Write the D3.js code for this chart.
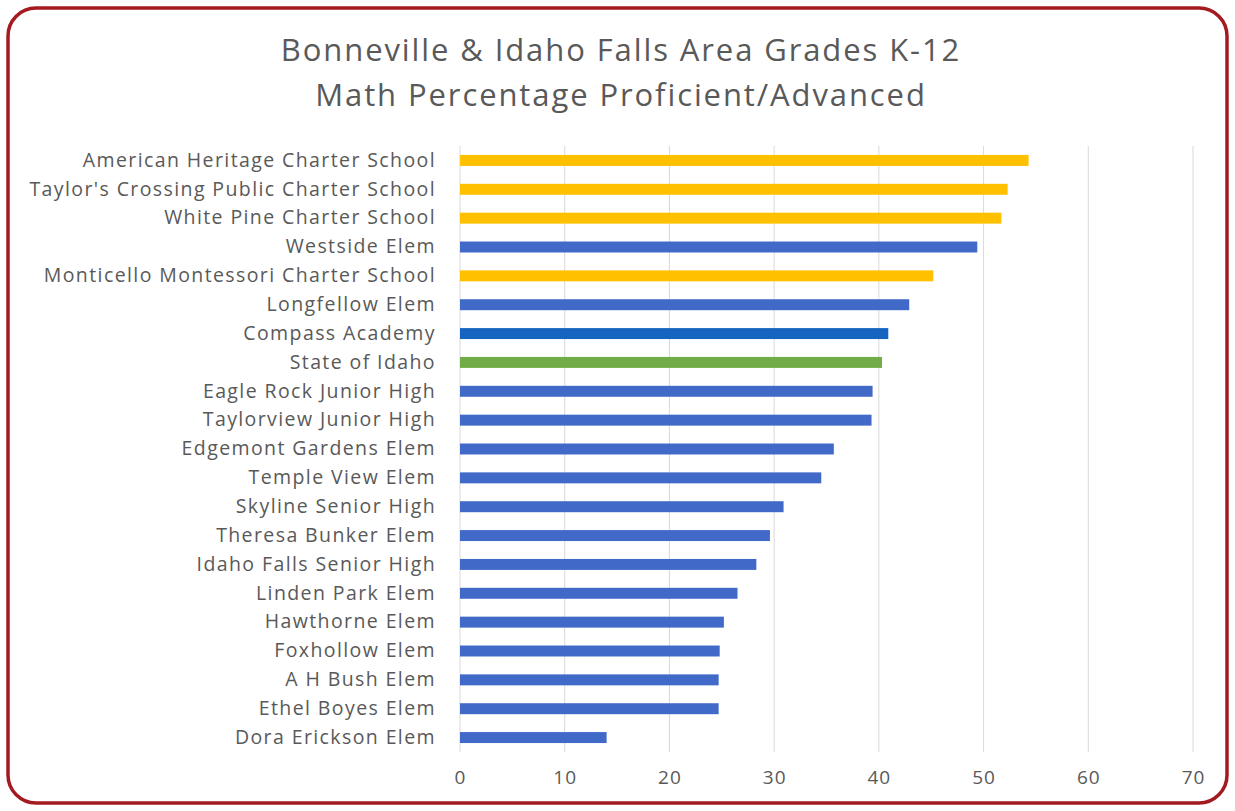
<!DOCTYPE html>
<html>
<head>
<meta charset="utf-8">
<script src="https://cdn.jsdelivr.net/npm/d3@7"></script>
<style>
  html, body { margin: 0; padding: 0; background: #fff; }
  svg { display: block; font-family: "Open Sans", sans-serif; }
</style>
</head>
<body>
<svg id="chart"></svg>
<script>
const schools = [
  "American Heritage Charter School",
  "Taylor's Crossing Public Charter School",
  "White Pine Charter School",
  "Westside Elem",
  "Monticello Montessori Charter School",
  "Longfellow Elem",
  "Compass Academy",
  "State of Idaho",
  "Eagle Rock Junior High",
  "Taylorview Junior High",
  "Edgemont Gardens Elem",
  "Temple View Elem",
  "Skyline Senior High",
  "Theresa Bunker Elem",
  "Idaho Falls Senior High",
  "Linden Park Elem",
  "Hawthorne Elem",
  "Foxhollow Elem",
  "A H Bush Elem",
  "Ethel Boyes Elem",
  "Dora Erickson Elem"
];
const percents = [54.3, 52.3, 51.7, 49.4, 45.2, 42.9, 40.9, 40.3, 39.4, 39.3,
  35.7, 34.5, 30.9, 29.6, 28.3, 26.5, 25.2, 24.8, 24.7, 24.7, 14.0];
// charter / district / compass / state
const kinds = ["charter", "charter", "charter", "district", "charter", "district", "compass", "state",
  "district", "district", "district", "district", "district", "district", "district", "district",
  "district", "district", "district", "district", "district"];
const xTicks = [0, 10, 20, 30, 40, 50, 60, 70];
const titleLines = ["Bonneville & Idaho Falls Area Grades K-12", "Math Percentage Proficient/Advanced"];

const data = schools.map((s, i) => ({ school: s, value: percents[i], kind: kinds[i] }));

const width = 1235, height = 811;
const marginLeft = 460, marginRight = 42, marginTop = 146, marginBottom = 59;

const color = d3.scaleOrdinal()
  .domain(["charter", "district", "compass", "state"])
  .range(["#ffc000", "#4169c8", "#1565c0", "#70ad47"]);

const svg = d3.select("#chart")
  .attr("width", width)
  .attr("height", height);

// border
svg.append("rect")
  .attr("x", 8).attr("y", 8)
  .attr("width", width - 16).attr("height", height - 16)
  .attr("rx", 28).attr("ry", 28)
  .attr("fill", "#fff")
  .attr("stroke", "#a31b20")
  .attr("stroke-width", 3.5);

const x = d3.scaleLinear()
  .domain([0, 70])
  .range([marginLeft, width - marginRight]);

const y = d3.scaleBand()
  .domain(schools)
  .range([marginTop, height - marginBottom])
  .paddingInner(0.62)
  .paddingOuter(0.31);

// title
svg.append("g")
  .selectAll("text")
  .data(titleLines)
  .join("text")
  .attr("x", 621)
  .attr("y", (d, i) => 61 + i * 45)
  .attr("text-anchor", "middle")
  .attr("fill", "#595959")
  .attr("font-size", 31)
  .attr("letter-spacing", 1.9)
  .text(d => d);

// grid
svg.append("g")
  .selectAll("line")
  .data(xTicks)
  .join("line")
  .attr("x1", d => x(d)).attr("x2", d => x(d))
  .attr("y1", marginTop).attr("y2", height - marginBottom)
  .attr("stroke", "#d9d9d9")
  .attr("stroke-width", 1);

// bars
svg.append("g")
  .selectAll("rect")
  .data(data)
  .join("rect")
  .attr("x", x(0))
  .attr("y", d => y(d.school))
  .attr("width", d => x(d.value) - x(0))
  .attr("height", y.bandwidth())
  .attr("fill", d => color(d.kind));

// y axis labels
svg.append("g")
  .attr("transform", `translate(${marginLeft - 24},0)`)
  .call(d3.axisLeft(y).tickSize(0).tickPadding(0))
  .call(g => g.select(".domain").remove())
  .call(g => g.selectAll("text")
    .attr("fill", "#595959")
    .attr("font-size", 19.5)
    .attr("letter-spacing", 1.4)
    .attr("font-family", "'Open Sans', sans-serif"));

// x axis
svg.append("g")
  .attr("transform", `translate(0,${height - marginBottom})`)
  .call(d3.axisBottom(x).tickValues(xTicks).tickSize(0).tickPadding(19))
  .call(g => g.select(".domain").remove())
  .call(g => g.selectAll("text")
    .attr("fill", "#595959")
    .attr("font-size", 19)
    .attr("letter-spacing", 1)
    .attr("font-family", "'Open Sans', sans-serif"));
</script>
</body>
</html>
